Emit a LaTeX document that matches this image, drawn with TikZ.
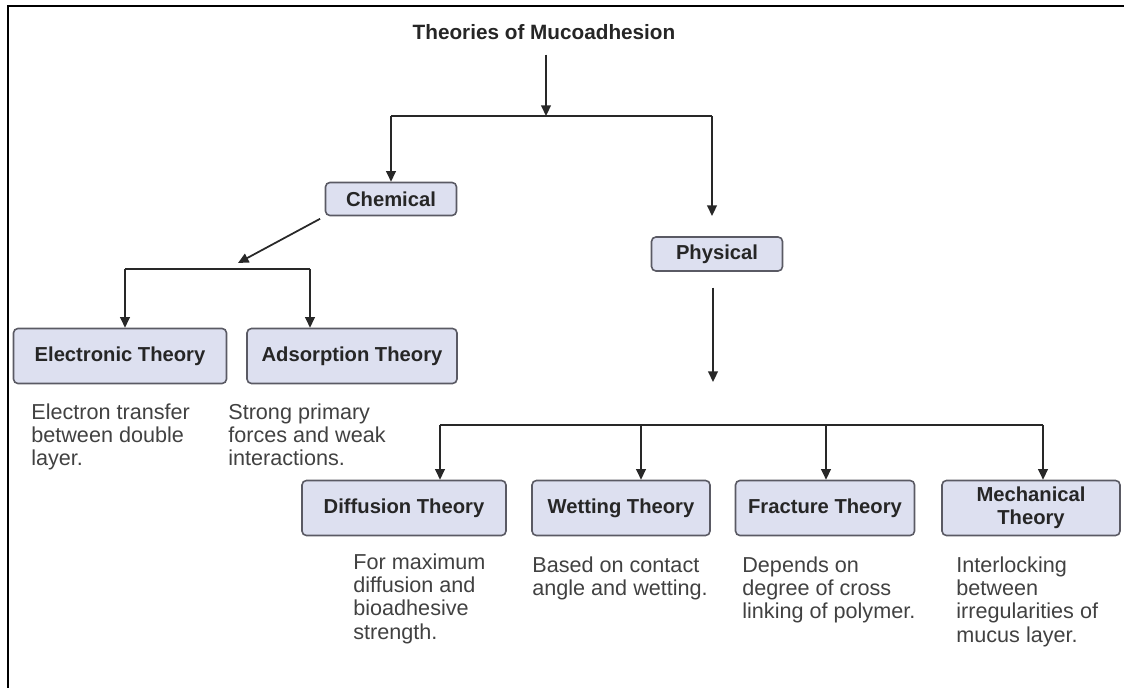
\documentclass[tikz,border=0pt]{standalone}
\usepackage{fontspec}
\setmainfont{Liberation Sans}
\usetikzlibrary{arrows.meta}
\definecolor{boxfill}{RGB}{221,224,240}
\definecolor{boxline}{RGB}{90,90,100}
\definecolor{linecol}{RGB}{40,40,40}
\definecolor{desccol}{RGB}{65,65,65}

\begin{document}
\begin{tikzpicture}[x=0.02cm,y=-0.02cm,
  box/.style={draw=boxline,fill=boxfill,line width=0.9pt,rounded corners=2.5pt,
    minimum height=1.1cm,inner sep=2pt,align=center,text=black!85,
    font=\fontsize{11.5}{13.4}\selectfont\bfseries},
  desc/.style={anchor=north west,inner sep=0pt,align=left,text=desccol,
    font=\fontsize{12.3}{13.3}\selectfont},
  ln/.style={draw=linecol,line width=1pt},
  arr/.style={ln,-{Triangle[width=5.5pt,length=6pt]}}]

\useasboundingbox (0,0) rectangle (1124,688);
\draw[line width=1.6pt] (8,688) -- (8,6) -- (1124,6);

\node (title) at (544,32) [text=black!85,font=\fontsize{11.8}{13.4}\selectfont\bfseries] {Theories of Mucoadhesion};

\node[box,minimum width=2.62cm,minimum height=0.66cm] (chem) at (391,199) {Chemical};
\node[box,minimum width=2.62cm,minimum height=0.68cm] (phys) at (717,254) {Physical};

\node[box,minimum width=4.26cm] (elec) at (120,356) {Electronic Theory};
\node[box,minimum width=4.2cm] (ads) at (352,356) {Adsorption Theory};

\node[box,minimum width=4.08cm] (diff) at (404,508) {Diffusion Theory};
\node[box,minimum width=3.56cm] (wet) at (621,508) {Wetting Theory};
\node[box,minimum width=3.58cm] (frac) at (825,508) {Fracture Theory};
\node[box,minimum width=3.56cm] (mech) at (1031,508) {Mechanical\\Theory};

\node[desc] (elecd) at (31,403) {Electron transfer\\between double\\layer.};
\node[desc] (adsd) at (228,403) {Strong primary\\forces and weak\\interactions.};
\node[desc] (diffd) at (353,553) {For maximum\\diffusion and\\bioadhesive\\strength.};
\node[desc] (wetd) at (532,556) {Based on contact\\angle and wetting.};
\node[desc] (fracd) at (742,556) {Depends on\\degree of cross\\linking of polymer.};
\node[desc] (mechd) at (956,556) {Interlocking\\between\\irregularities of\\mucus layer.};

\coordinate (jt) at (546,116);
\coordinate (jp) at (712,116);
\coordinate (pe) at (712,216);
\draw[arr,shorten <=5pt] (title.south -| jt) -- (jt);
\draw[ln] (jt -| chem) -- (jp);
\draw[arr] (jt -| chem) -- (chem);
\draw[arr] (jp) -- (pe);

\coordinate (jc) at (238,263);
\coordinate (je) at (125,269);
\coordinate (ja) at (310,269);
\draw[arr,shorten <=3pt] (chem.south west) -- (jc);
\draw[ln] (je) -- (ja);
\draw[arr] (je) -- (je |- elec.north);
\draw[arr] (ja) -- (ja |- ads.north);

\coordinate (pb) at (713,382);
\draw[arr,shorten <=9pt] (phys.south -| pb) -- (pb);

\coordinate (b1) at (440,425);
\coordinate (b2) at (641,425);
\coordinate (b3) at (826,425);
\coordinate (b4) at (1043,425);
\draw[ln] (b1) -- (b4);
\draw[arr] (b1) -- (b1 |- diff.north);
\draw[arr] (b2) -- (b2 |- wet.north);
\draw[arr] (b3) -- (b3 |- frac.north);
\draw[arr] (b4) -- (b4 |- mech.north);

\end{tikzpicture}
\end{document}
